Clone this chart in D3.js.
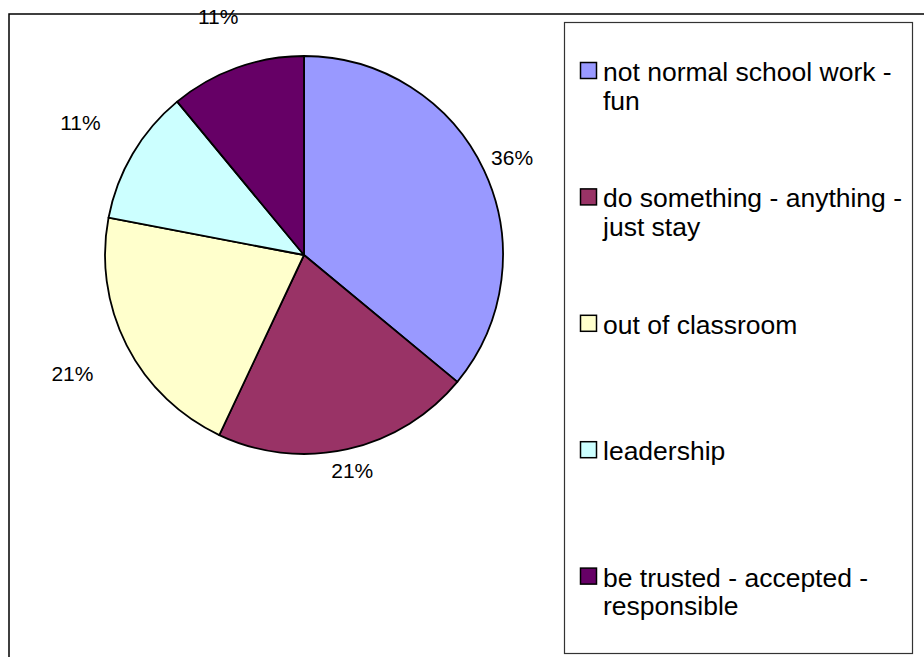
<!DOCTYPE html>
<html>
<head>
<meta charset="utf-8">
<script src="https://cdn.jsdelivr.net/npm/d3@7"></script>
<style>
  html, body { margin: 0; padding: 0; background: #fff; }
  svg { display: block; font-family: "Liberation Sans", Arial, sans-serif; }
</style>
</head>
<body>
<svg id="chart" width="924" height="657"></svg>
<script>
// Survey answers: share of responses per reason
const categories = [
  "not normal school work - fun",
  "do something - anything - just stay",
  "out of classroom",
  "leadership",
  "be trusted - accepted - responsible"
];
const legendLines = [
  ["not normal school work -", "fun"],
  ["do something - anything -", "just stay"],
  ["out of classroom"],
  ["leadership"],
  ["be trusted - accepted -", "responsible"]
];
const values = [36, 21, 21, 11, 11];
const colors = ["#9999FF", "#993366", "#FFFFCC", "#CCFFFF", "#660066"];

const svg = d3.select("#chart");

// Outer chart frame (runs off the right and bottom edges)
svg.append("rect")
  .attr("x", 9).attr("y", 14)
  .attr("width", 1000).attr("height", 1000)
  .attr("fill", "#fff")
  .attr("stroke", "#000").attr("stroke-width", 1.5);

// Pie
const cx = 304, cy = 255, r = 199;
const pie = d3.pie().sort(null).value(d => d)(values);
const arc = d3.arc().innerRadius(0).outerRadius(r);
const total = d3.sum(values);

const g = svg.append("g").attr("transform", `translate(${cx},${cy})`);
g.selectAll("path.slice")
  .data(pie)
  .join("path")
  .attr("class", "slice")
  .attr("d", arc)
  .attr("fill", (d, i) => colors[i])
  .attr("stroke", "#000")
  .attr("stroke-width", 1.8)
  .attr("stroke-linejoin", "round");

// Percentage labels just outside each slice
const fmt = d3.format(".0%");
g.selectAll("text.pct")
  .data(pie)
  .join("text")
  .attr("class", "pct")
  .attr("transform", d => {
    const a = (d.startAngle + d.endAngle) / 2;
    const s = Math.sin(a), c = Math.cos(a);
    const rl = 208 + 20 * Math.abs(s) + 9 * Math.abs(c) + (s < 0 ? 30 : 0);
    return `translate(${rl * s},${-rl * c})`;
  })
  .attr("text-anchor", "middle")
  .attr("dy", "0.36em")
  .attr("font-size", 21)
  .attr("fill", "#000")
  .text(d => fmt(d.data / total));

// Legend
const legend = svg.append("g");
legend.append("rect")
  .attr("x", 564.5).attr("y", 22.5)
  .attr("width", 348).attr("height", 631)
  .attr("fill", "#fff")
  .attr("stroke", "#333").attr("stroke-width", 1.2);

const firstBaseline = 81, entryStep = 126.4, lineStep = 28.5;
const items = legend.selectAll("g.item")
  .data(categories)
  .join("g")
  .attr("class", "item")
  .attr("transform", (d, i) => `translate(0,${firstBaseline + i * entryStep})`);

items.append("rect")
  .attr("x", 580.5).attr("y", -18.5)
  .attr("width", 16).attr("height", 16)
  .attr("fill", (d, i) => colors[i])
  .attr("stroke", "#000").attr("stroke-width", 1.5);

items.each(function(d, i) {
  const t = d3.select(this).append("text")
    .attr("x", 603).attr("y", 0)
    .attr("font-size", 26.5)
    .attr("fill", "#000");
  legendLines[i].forEach((line, k) => {
    t.append("tspan").attr("x", 603).attr("y", k * lineStep).text(line);
  });
});
</script>
</body>
</html>
